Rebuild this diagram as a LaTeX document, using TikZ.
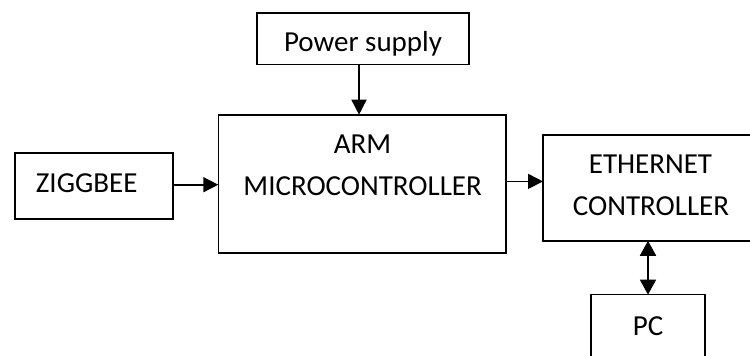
\documentclass[tikz,border=0pt]{standalone}
\usepackage{fontspec}
\setmainfont{Carlito}
\usetikzlibrary{arrows.meta,calc}
\begin{document}
\begin{tikzpicture}[x=1pt,y=-1pt,
  box/.style={draw=black,line width=1.6pt,inner sep=0pt,outer sep=0pt,rectangle},
  lbl/.style={inner sep=0pt,outer sep=0pt,anchor=base,font=\fontsize{29}{35}\selectfont},
  conn/.style={line width=1.6pt,-{Triangle[length=15pt,width=15pt]}},
  bconn/.style={line width=1.6pt,{Triangle[length=15pt,width=16pt]}-{Triangle[length=15pt,width=16pt]}}]
\clip (0,0) rectangle (750,356);
\fill[white] (0,0) rectangle (750,356);
% boxes
\node[box,minimum width=212pt,minimum height=51.6pt] (ps) at (363,38.5) {};
\node[box,minimum width=287.4pt,minimum height=138pt] (arm) at (362,183.7) {};
\node[box,minimum width=158pt,minimum height=66pt] (zig) at (94,185.7) {};
\node[box,minimum width=214pt,minimum height=105.7pt] (eth) at (650,187.9) {};
\node[box,minimum width=114pt,minimum height=63.3pt] (pc) at (648,326.3) {};
% texts
\node[lbl] (pst) at (363,51.7) {Power supply};
\node[lbl] (armt1) at (362.5,153.3) {ARM};
\node[lbl] (armt2) at (362.7,195) {MICROCONTROLLER};
\node[lbl] (zigt) at (86.7,192.7) {ZIGGBEE};
\node[lbl] (etht1) at (650.5,173.3) {ETHERNET};
\node[lbl] (etht2) at (651,215) {CONTROLLER};
\node[lbl] (pct) at (648,335) {PC};
% connectors
\draw[conn] ([xshift=-4pt]ps.south) -- ([xshift=-3pt]arm.north);
\draw[conn] ([yshift=1pt]zig.east) -- ([yshift=1pt]zig.east -| arm.west);
\draw[conn] ([yshift=2.3pt]arm.east) -- ([yshift=2.3pt]arm.east -| eth.west);
\draw[bconn] (pc.north |- eth.south) -- (pc.north);
\end{tikzpicture}
\end{document}
